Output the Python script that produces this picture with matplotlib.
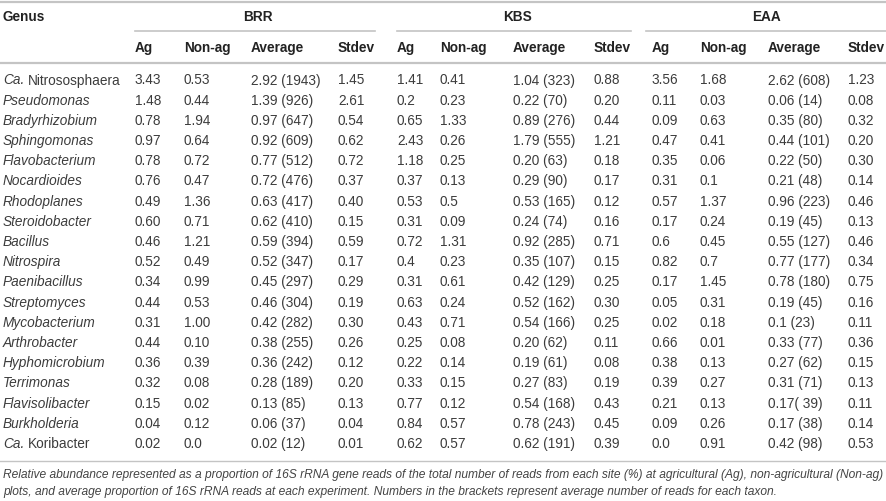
import matplotlib
matplotlib.use("Agg")
import matplotlib.pyplot as plt

plt.rcParams['font.family'] = ['Liberation Sans', 'DejaVu Sans']

# table content
genera = ["Ca. Nitrososphaera", "Pseudomonas", "Bradyrhizobium", "Sphingomonas",
          "Flavobacterium", "Nocardioides", "Rhodoplanes", "Steroidobacter",
          "Bacillus", "Nitrospira", "Paenibacillus", "Streptomyces",
          "Mycobacterium", "Arthrobacter", "Hyphomicrobium", "Terrimonas",
          "Flavisolibacter", "Burkholderia", "Ca. Koribacter"]

sites = ["BRR", "KBS", "EAA"]
sub_cols = ["Ag", "Non-ag", "Average", "Stdev"]

brr_ag = ["3.43", "1.48", "0.78", "0.97", "0.78", "0.76", "0.49", "0.60", "0.46", "0.52",
          "0.34", "0.44", "0.31", "0.44", "0.36", "0.32", "0.15", "0.04", "0.02"]
brr_nonag = ["0.53", "0.44", "1.94", "0.64", "0.72", "0.47", "1.36", "0.71", "1.21", "0.49",
             "0.99", "0.53", "1.00", "0.10", "0.39", "0.08", "0.02", "0.12", "0.0"]
brr_avg = ["2.92 (1943)", "1.39 (926)", "0.97 (647)", "0.92 (609)", "0.77 (512)",
           "0.72 (476)", "0.63 (417)", "0.62 (410)", "0.59 (394)", "0.52 (347)",
           "0.45 (297)", "0.46 (304)", "0.42 (282)", "0.38 (255)", "0.36 (242)",
           "0.28 (189)", "0.13 (85)", "0.06 (37)", "0.02 (12)"]
brr_sd = ["1.45", "2.61", "0.54", "0.62", "0.72", "0.37", "0.40", "0.15", "0.59", "0.17",
          "0.29", "0.19", "0.30", "0.26", "0.12", "0.20", "0.13", "0.04", "0.01"]

kbs_ag = ["1.41", "0.2", "0.65", "2.43", "1.18", "0.37", "0.53", "0.31", "0.72", "0.4",
          "0.31", "0.63", "0.43", "0.25", "0.22", "0.33", "0.77", "0.84", "0.62"]
kbs_nonag = ["0.41", "0.23", "1.33", "0.26", "0.25", "0.13", "0.5", "0.09", "1.31", "0.23",
             "0.61", "0.24", "0.71", "0.08", "0.14", "0.15", "0.12", "0.57", "0.57"]
kbs_avg = ["1.04 (323)", "0.22 (70)", "0.89 (276)", "1.79 (555)", "0.20 (63)",
           "0.29 (90)", "0.53 (165)", "0.24 (74)", "0.92 (285)", "0.35 (107)",
           "0.42 (129)", "0.52 (162)", "0.54 (166)", "0.20 (62)", "0.19 (61)",
           "0.27 (83)", "0.54 (168)", "0.78 (243)", "0.62 (191)"]
kbs_sd = ["0.88", "0.20", "0.44", "1.21", "0.18", "0.17", "0.12", "0.16", "0.71", "0.15",
          "0.25", "0.30", "0.25", "0.11", "0.08", "0.19", "0.43", "0.45", "0.39"]

eaa_ag = ["3.56", "0.11", "0.09", "0.47", "0.35", "0.31", "0.57", "0.17", "0.6", "0.82",
          "0.17", "0.05", "0.02", "0.66", "0.38", "0.39", "0.21", "0.09", "0.0"]
eaa_nonag = ["1.68", "0.03", "0.63", "0.41", "0.06", "0.1", "1.37", "0.24", "0.45", "0.7",
             "1.45", "0.31", "0.18", "0.01", "0.13", "0.27", "0.13", "0.26", "0.91"]
eaa_avg = ["2.62 (608)", "0.06 (14)", "0.35 (80)", "0.44 (101)", "0.22 (50)",
           "0.21 (48)", "0.96 (223)", "0.19 (45)", "0.55 (127)", "0.77 (177)",
           "0.78 (180)", "0.19 (45)", "0.1 (23)", "0.33 (77)", "0.27 (62)",
           "0.31 (71)", "0.17( 39)", "0.17 (38)", "0.42 (98)"]
eaa_sd = ["1.23", "0.08", "0.32", "0.20", "0.30", "0.14", "0.46", "0.13", "0.46", "0.34",
          "0.75", "0.16", "0.11", "0.36", "0.15", "0.13", "0.11", "0.14", "0.53"]

footnote = ("Relative abundance represented as a proportion of 16S rRNA gene reads of the total "
            "number of reads from each site (%) at agricultural (Ag), non-agricultural (Non-ag)\n"
            "plots, and average proportion of 16S rRNA reads at each experiment. Numbers in the "
            "brackets represent average number of reads for each taxon.")

columns = [brr_ag, brr_nonag, brr_avg, brr_sd,
           kbs_ag, kbs_nonag, kbs_avg, kbs_sd,
           eaa_ag, eaa_nonag, eaa_avg, eaa_sd]

# layout (pixel coordinates)
W, H = 887, 502
col_x = [135, 184, 251, 338, 397, 440, 513, 594, 652, 700, 768, 848]
site_span = [(135, 375), (397, 631), (646, 887)]
site_cx = [258, 518, 767]
row_y0, row_dy = 80.5, 20.2
fs = 9.8
txt_col = "#3c3c3c"
hdr_col = "#222222"
rule_col = "#c4c4c4"

fig = plt.figure(figsize=(W / 100, H / 100), dpi=100)
ax = fig.add_axes([0, 0, 1, 1])
ax.set_xlim(0, W)
ax.set_ylim(H, 0)
ax.axis("off")

# rules
ax.plot([0, W], [2.5, 2.5], color=rule_col, lw=1.6)
for x0, x1 in site_span:
    ax.plot([x0, x1], [32, 32], color=rule_col, lw=1.2)
ax.plot([0, W], [63.5, 63.5], color=rule_col, lw=1.6)
ax.plot([0, W], [461.5, 461.5], color=rule_col, lw=1.0)

# headers
ax.text(3, 17, "Genus", fontsize=fs, fontweight="bold", color=hdr_col, va="center")
for name, cx in zip(sites, site_cx):
    ax.text(cx, 17, name, fontsize=fs, fontweight="bold", color=hdr_col,
            va="center", ha="center")
for i, x in enumerate(col_x):
    ax.text(x, 48, sub_cols[i % 4], fontsize=fs, fontweight="bold", color=hdr_col,
            va="center")

fig.canvas.draw()
renderer = fig.canvas.get_renderer()
inv = ax.transData.inverted()

# genus column: italic names, "Ca." italic followed by roman name
for r, g in enumerate(genera):
    y = row_y0 + r * row_dy
    if g.startswith("Ca. "):
        t = ax.text(3, y, "Ca.", fontsize=fs, fontstyle="italic", color=txt_col,
                    va="center")
        bb = t.get_window_extent(renderer)
        x_end = inv.transform((bb.x1, bb.y0))[0]
        ax.text(x_end + 3.5, y, g[4:], fontsize=fs, color=txt_col, va="center")
    else:
        ax.text(3, y, g, fontsize=fs, fontstyle="italic", color=txt_col, va="center")

for c, vals in enumerate(columns):
    for r, v in enumerate(vals):
        ax.text(col_x[c], row_y0 + r * row_dy, v, fontsize=fs, color=txt_col,
                va="center")

ax.text(3, 483.5, footnote, fontsize=8.65, fontstyle="italic", color="#444444",
        va="center", linespacing=1.65)

fig.savefig("out.png", dpi=100)
